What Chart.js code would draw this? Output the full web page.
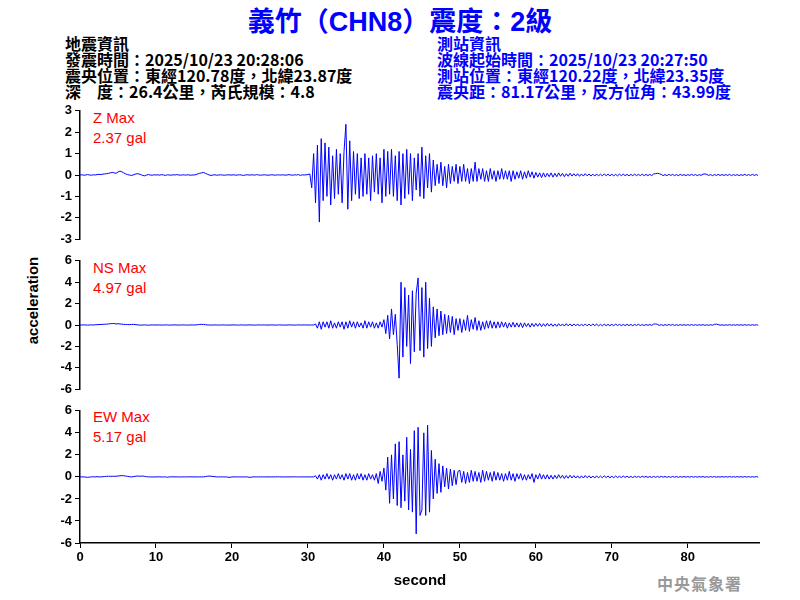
<!DOCTYPE html>
<html><head><meta charset="utf-8">
<script src="https://cdn.jsdelivr.net/npm/chart.js@4"></script>
<style>
body{margin:0;width:800px;height:600px;background:#fff;position:relative;overflow:hidden;font-family:"Liberation Sans",Arial,sans-serif}
canvas{position:absolute}
.t{position:absolute;white-space:nowrap}
.h{font-family:"Noto Sans CJK TC","Liberation Sans",sans-serif;font-size:16px;font-weight:bold;line-height:16px}
.lab{color:#ff0000;font-size:15px;line-height:20px}
</style></head><body>
<div class="t" style="left:0;width:800px;text-align:center;top:0px;color:#0000ff;font-size:27px;font-weight:bold;font-family:'Liberation Sans','Noto Sans CJK TC',sans-serif">義竹（CHN8）震度：2級</div>
<div class="t h" style="left:65px;top:35px;color:#000">地震資訊<br>發震時間：2025/10/23 20:28:06<br>震央位置：東經120.78度，北緯23.87度<br>深　度：26.4公里，芮氏規模：4.8</div>
<div class="t h" style="left:437px;top:35px;color:#0000ff">測站資訊<br>波線起始時間：2025/10/23 20:27:50<br>測站位置：東經120.22度，北緯23.35度<br>震央距：81.17公里，反方位角：43.99度</div>
<div class="t lab" style="left:93px;top:108px">Z Max<br>2.37 gal</div>
<div class="t lab" style="left:93px;top:258px">NS Max<br>4.97 gal</div>
<div class="t lab" style="left:93px;top:407px">EW Max<br>5.17 gal</div>
<div class="t" style="left:-18px;top:292px;width:100px;text-align:center;transform:rotate(-90deg);font-size:15px;font-weight:bold">acceleration</div>
<div class="t" style="left:657px;top:571px;color:#999;font-size:16px;font-weight:bold;font-family:'Noto Sans CJK TC',serif;letter-spacing:1px">中央氣象署</div>
<canvas id="cz" style="left:40px;top:100px;width:720px;height:150px" width="720" height="150"></canvas>
<canvas id="cn" style="left:40px;top:250px;width:720px;height:150px" width="720" height="150"></canvas>
<canvas id="ce" style="left:40px;top:400px;width:720px;height:194px" width="720" height="194"></canvas>
<script>
const step = 0.25;
const zValues = [
0,0.01,-0.01,0,0.02,0,-0.01,0.01,0,0.02,0.03,0.02,0.04,0.05,0.06,0.08,0.1,0.12,0.1,0.08,
0.14,0.18,0.15,0.1,0.05,0.02,0,-0.02,0,0.04,0.06,0.05,0.02,-0.02,-0.04,0,0.02,0,-0.01,0.01,
0,0.01,-0.01,0.02,0,-0.02,0.01,0,-0.01,0.01,0,0.02,0,-0.01,0.01,0,0,0.01,-0.01,0,
0,0.02,0.05,0.08,0.1,0.12,0.08,0.04,0,-0.02,0,0.01,-0.01,0,0.01,0,-0.01,0,0.01,0,
0,0.01,-0.01,0,0.01,0,-0.02,0,0.01,0,0,0.01,-0.01,0.02,0,-0.01,0,0.01,0,-0.01,
0,0.01,0,-0.01,0.01,0,0,0.01,-0.01,0,0.02,0,-0.01,0.01,0,0.02,-0.02,0.01,0,0.01,
0.02,0.05,-0.6,1.0,-1.3,1.4,-2.2,1.7,-1.2,1.5,-1.0,1.3,-1.4,0.9,-1.1,1.2,-0.9,1.0,-1.3,1.1,
2.37,-1.6,1.6,-1.2,1.1,-0.9,1.0,-1.1,0.8,-1.0,1.0,-0.9,0.8,-1.2,0.9,-0.8,1.0,-0.9,0.8,-1.3,
1.2,-1.0,1.1,-0.9,1.2,-1.0,0.9,-1.2,1.1,-1.4,1.0,-1.1,1.2,-0.9,1.0,-1.2,0.8,-0.7,1.0,-1.0,
1.3,-1.1,0.9,-0.6,1.0,-0.8,0.7,-0.5,0.5,-0.4,0.6,-0.5,0.4,-0.6,0.5,-0.4,0.4,-0.3,0.5,-0.4,
0.4,-0.3,0.5,-0.3,0.3,-0.4,0.3,-0.3,0.6,-0.3,0.3,-0.2,0.3,-0.3,0.2,-0.3,0.3,-0.2,0.2,-0.3,
0.2,-0.2,0.3,-0.2,0.2,-0.2,0.2,-0.3,0.2,-0.2,0.15,-0.15,0.2,-0.2,0.15,-0.15,0.2,-0.1,0.15,-0.15,
0.12,-0.1,0.1,-0.12,0.1,-0.1,0.08,-0.08,0.1,-0.1,0.08,-0.08,0.1,-0.06,0.08,-0.08,0.06,-0.06,0.08,-0.05,
0.06,-0.05,0.06,-0.06,0.05,-0.05,0.06,-0.04,0.05,-0.05,0.04,-0.05,0.05,-0.04,0.04,-0.04,0.05,-0.03,0.04,-0.04,
0.04,-0.04,0.03,-0.04,0.04,-0.03,0.04,-0.03,0.03,-0.04,0.03,-0.03,0.04,-0.03,0.03,-0.03,0.04,-0.03,0.03,-0.03,
0.03,-0.03,0.05,0.06,0.08,0.06,0.03,-0.03,0.02,-0.03,0.03,-0.02,0.03,-0.03,0.02,-0.03,0.03,-0.02,0.02,-0.03,
0.02,-0.02,0.03,-0.02,0.02,-0.03,0.02,-0.02,0.04,0.05,0.03,-0.02,0.02,-0.03,0.02,-0.02,0.03,-0.02,0.02,-0.02,
0.02,-0.02,0.03,-0.03,0.02,-0.02,0.02,-0.03,0.02,-0.02,0.03,-0.02,0.02,-0.02,0.03,-0.02,0.02,-0.02
];
const nsValues = [
0,0,0.01,0,-0.01,0,0.01,0,0.02,0.03,0.04,0.05,0.06,0.07,0.08,0.1,0.12,0.14,0.13,0.1,
0.12,0.1,0.08,0.06,0.05,0.04,0.03,0.05,0.06,0.04,0.02,0,-0.01,0,0.01,0,-0.02,0,0.01,0,
0,0.01,0,-0.01,0,0.01,0,-0.01,0,0,0.01,0,-0.01,0,0.01,0,0,-0.01,0,0.01,
0,0.01,0.03,0.05,0.06,0.05,0.03,0.01,0,-0.01,0,0.01,0,-0.01,0,0.01,0,0,-0.01,0,
0,0.01,0,-0.01,0,0.01,0,-0.01,0,0.01,0,0,-0.01,0,0.01,0,0,0.01,-0.01,0,
0,0.01,0,-0.01,0,0.01,0,0,-0.01,0,0.01,0,0,-0.01,0,0.01,0,0,0.01,0,
0,0,0,0,0.1,-0.3,0.3,-0.4,0.3,-0.2,0.3,-0.3,0.4,-0.3,0.2,-0.3,0.3,-0.2,0.3,-0.4,
0.3,-0.3,0.4,-0.2,0.3,-0.3,0.3,-0.2,0.2,-0.3,0.4,-0.3,0.3,-0.2,0.3,-0.3,0.2,-0.3,0.3,-0.2,
0.5,-0.8,0.9,-1.3,1.5,-0.9,1.0,-1.8,-4.97,4.0,-3.0,3.5,-2.0,2.8,-3.6,3.2,-2.5,3.0,4.4,-2.4,
3.5,-3.0,4.0,-2.2,2.5,-2.0,1.7,-1.2,1.5,-1.0,1.3,-0.9,1.0,-0.8,0.9,-0.7,0.8,-0.9,0.6,-0.5,
0.6,-0.7,0.5,-0.5,0.9,-0.6,0.5,-0.4,0.7,-0.5,0.4,-0.5,0.3,-0.4,0.4,-0.3,0.4,-0.3,0.3,-0.3,
0.3,-0.25,0.3,-0.2,0.25,-0.3,0.2,-0.2,0.25,-0.2,0.2,-0.2,0.2,-0.25,0.2,-0.15,0.15,-0.2,0.15,-0.15,
0.15,-0.12,0.15,-0.15,0.12,-0.12,0.15,-0.1,0.12,-0.12,0.1,-0.12,0.12,-0.1,0.1,-0.1,0.12,-0.08,0.1,-0.1,
0.1,-0.08,0.1,-0.1,0.08,-0.08,0.1,-0.08,0.08,-0.08,0.1,-0.06,0.08,-0.08,0.06,-0.08,0.08,-0.06,0.06,-0.06,
0.06,-0.06,0.08,-0.05,0.06,-0.06,0.05,-0.05,0.06,-0.05,0.05,-0.06,0.05,-0.04,0.06,-0.05,0.04,-0.05,0.05,-0.04,
0.05,-0.04,0.08,0.1,0.06,-0.04,0.04,-0.05,0.04,-0.04,0.05,-0.03,0.04,-0.04,0.03,-0.04,0.04,-0.03,0.03,-0.03,
0.03,-0.03,0.04,-0.03,0.03,-0.03,0.03,-0.02,0.03,-0.03,0.02,-0.03,0.03,-0.02,0.06,0.08,0.04,-0.02,0.02,-0.03,
0.02,-0.02,0.03,-0.02,0.02,-0.02,0.03,-0.02,0.02,-0.02,0.03,-0.02,0.02,-0.02,0.02,-0.02,0.02,-0.02
];
const ewValues = [
0,0,0,-0.02,-0.04,-0.02,0,0.01,0,0.02,0,0,0.02,0.03,0.05,0.06,0.05,0.06,0.05,0.06,
0.08,0.1,0.12,0.1,0.08,0.05,0.02,0,0.02,0.05,0.08,0.07,0.06,0.08,0.05,0.02,0,0,-0.01,0,
0,0,0.01,-0.01,0,0,-0.03,0,0,0.01,0,0,0,-0.01,0,0,0,0,0.01,0,
0,0,0,0,0,0,0.03,0.06,0.08,0.06,0.04,0.02,0,0,0,0,0,0,-0.03,-0.04,
0,0,0,0,0,0,0,0,0,-0.04,-0.03,0,0,0,0,0,0,0,0,0,
0,0,0,0,0.01,0,0,0,-0.01,0,0,0,0,0.01,0,0,0,0,0,0,
0,0,0,0,0.1,-0.2,0.2,-0.3,0.2,-0.2,0.3,-0.2,0.2,-0.3,0.2,-0.2,0.3,-0.2,0.2,-0.3,
0.3,-0.2,0.3,-0.3,0.2,-0.3,0.3,-0.2,0.3,-0.3,0.2,-0.3,0.3,-0.2,0.2,-0.3,0.3,-0.6,0.5,-0.4,
0.8,-1.2,1.8,-2.4,2.0,-2.0,3.0,-2.6,3.2,-2.8,2.0,-2.2,3.6,-3.0,2.5,-3.2,4.2,-5.17,4.5,-3.5,
-3.0,4.0,-3.5,4.7,-3.2,2.4,-2.0,1.6,-1.5,1.2,-1.4,1.0,-0.9,0.8,-1.1,0.7,-0.8,0.6,-0.7,0.5,
0.6,-0.5,0.5,-0.6,0.4,-0.5,0.6,-0.4,0.5,-0.4,0.4,-0.5,0.6,-0.4,0.5,-0.3,0.4,-0.4,0.5,-0.3,
0.4,-0.3,0.3,-0.4,0.3,-0.3,0.5,-0.3,0.3,-0.4,0.3,-0.2,0.3,-0.3,0.2,-0.3,0.2,-0.2,0.3,-0.5,
0.2,-0.2,0.3,-0.2,0.2,-0.2,0.2,-0.2,0.15,-0.2,0.15,-0.15,0.2,-0.12,0.15,-0.15,0.12,-0.12,0.15,-0.1,
0.12,-0.1,0.1,-0.12,0.1,-0.1,0.12,-0.08,0.1,-0.1,0.08,-0.1,0.1,-0.08,0.08,-0.08,0.1,-0.06,0.08,-0.08,
0.06,-0.08,0.08,-0.06,0.06,-0.06,0.08,-0.05,0.06,-0.06,0.05,-0.06,0.06,-0.04,0.05,-0.05,0.06,-0.04,0.05,-0.05,
0.04,-0.05,0.05,-0.04,0.04,-0.04,0.05,-0.03,0.04,-0.04,0.03,-0.04,0.04,-0.03,0.04,-0.04,0.03,-0.03,0.04,-0.03,
0.03,-0.03,0.04,-0.03,0.03,-0.03,0.03,-0.02,0.03,-0.03,0.02,-0.03,0.03,-0.02,0.03,-0.03,0.02,-0.02,0.03,-0.02,
0.02,-0.02,0.03,-0.02,0.02,-0.02,0.03,-0.02,0.02,-0.02,0.03,-0.02,0.02,-0.02,0.02,-0.02,0.03,-0.02
];
const xTicks = [0,10,20,30,40,50,60,70,80];
const zTicks = [-3,-2,-1,0,1,2,3];
const hTicks = [-6,-4,-2,0,2,4,6];
const xMax = 89.5;

const tickFont = {family:"'Liberation Sans', Arial, sans-serif", size:13, weight:'bold'};
function pts(v){return v.map((y,i)=>({x:i*step,y}));}
function make(id, values, yt, showX, pad){
  new Chart(document.getElementById(id),{
    type:'line',
    data:{datasets:[{data:pts(values),borderColor:'#0000ff',borderWidth:1,pointRadius:0,tension:0}]},
    options:{
      responsive:false,maintainAspectRatio:false,animation:false,devicePixelRatio:1,
      layout:{padding:{top:pad[0],bottom:pad[1],left:0,right:0}},
      plugins:{legend:{display:false},tooltip:{enabled:false}},
      scales:{
        x:{type:'linear',min:0,max:xMax,display:showX,
          afterBuildTicks:s=>{s.ticks=xTicks.map(v=>({value:v}));},
          afterFit:s=>{s.height=showX?51:0;},
          border:{color:'#000',width:1.5},
          grid:{drawOnChartArea:false,drawTicks:true,tickLength:5,color:'#000'},
          ticks:{color:'#000',font:tickFont,padding:2,maxRotation:0},
          title:{display:true,text:'second',color:'#000',font:{family:"'Liberation Sans', Arial",size:15,weight:'bold'},padding:{top:2}}
        },
        y:{type:'linear',min:yt[0],max:yt[yt.length-1],
          afterBuildTicks:s=>{s.ticks=yt.map(v=>({value:v}));},
          afterFit:s=>{s.width=40;},
          border:{color:'#000',width:1.5},
          grid:{drawOnChartArea:false,drawTicks:true,tickLength:5,color:'#000'},
          ticks:{color:'#000',font:tickFont,padding:3,autoSkip:false}
        }
      }
    }
  });
}
make('cz', zValues, zTicks, false, [7,7]);
make('cn', nsValues, hTicks, false, [7.5,7.5]);
make('ce', ewValues, hTicks, true, [7,0]);
</script>
</body></html>
